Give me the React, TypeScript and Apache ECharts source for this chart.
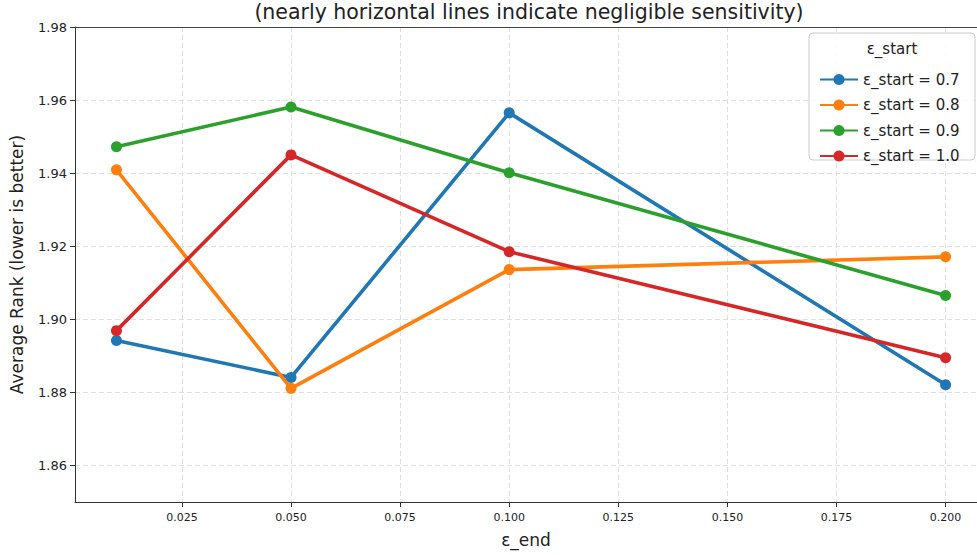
import React, { useEffect, useRef } from "react";
import * as echarts from "echarts";

const epsEnd = [0.01, 0.05, 0.1, 0.2];
const seriesNames = ["ε_start = 0.7", "ε_start = 0.8", "ε_start = 0.9", "ε_start = 1.0"];
const start07 = [1.8942, 1.8841, 1.9565, 1.8821];
const start08 = [1.9409, 1.8811, 1.9136, 1.9171];
const start09 = [1.9472, 1.9581, 1.9401, 1.9065];
const start10 = [1.8969, 1.945, 1.9185, 1.8895];
const colors = ["#1f77b4", "#ff7f0e", "#2ca02c", "#d62728"];
const xTicks = [0.025, 0.05, 0.075, 0.1, 0.125, 0.15, 0.175, 0.2];
const yTicks = [1.86, 1.88, 1.9, 1.92, 1.94, 1.96, 1.98];

const FONT = "DejaVu Sans";

export default function App() {
  const ref = useRef<HTMLDivElement>(null);
  useEffect(() => {
    if (!ref.current) return;
    const chart = echarts.init(ref.current, null, { renderer: "svg" });
    const values = [start07, start08, start09, start10];
    const series = values.map((vals, i) => ({
      name: seriesNames[i],
      type: "line",
      xAxisIndex: 0,
      data: epsEnd.map((x, j) => [x, vals[j]]),
      symbol: "circle",
      symbolSize: 11,
      lineStyle: { width: 3.6, color: colors[i] },
      itemStyle: { color: colors[i] },
      z: 3 + i,
    }));
    chart.setOption({
      animation: false,
      textStyle: { fontFamily: FONT },
      grid: {
        left: 74,
        right: 0,
        top: 27,
        bottom: 53,
      },
      xAxis: [
        {
          type: "value",
          min: 0.0005,
          max: 0.2072,
          name: "ε_end",
          nameLocation: "middle",
          nameGap: 29,
          nameTextStyle: { fontSize: 17, color: "#222", fontFamily: FONT },
          axisLine: { show: true, onZero: false, lineStyle: { color: "#333", width: 1 } },
          axisTick: { show: true, length: 5, lineStyle: { color: "#333" }, customValues: xTicks },
          axisLabel: {
            customValues: xTicks,
            fontSize: 11,
            color: "#222",
            margin: 10,
            fontFamily: FONT,
            formatter: (v: number) => v.toFixed(3),
          },
          splitLine: { show: true, lineStyle: { color: "#e0e0e0", type: [5, 3], width: 1 } },
        },
        {
          type: "value",
          position: "top",
          min: 0.0005,
          max: 0.2072,
          axisLine: { show: true, onZero: false, lineStyle: { color: "#444", width: 1.2 } },
          axisTick: { show: false },
          axisLabel: { show: false },
          splitLine: { show: false },
        },
      ],
      yAxis: {
        type: "value",
        min: 1.85,
        max: 1.98,
        name: "Average Rank (lower is better)",
        nameLocation: "middle",
        nameGap: 50,
        nameTextStyle: { fontSize: 17, color: "#222", fontFamily: FONT },
        axisLine: { show: true, onZero: false, lineStyle: { color: "#333", width: 1 } },
        axisTick: { show: true, length: 5, lineStyle: { color: "#333" }, customValues: yTicks },
        axisLabel: {
          customValues: yTicks,
          fontSize: 13,
          color: "#222",
          margin: 8,
          fontFamily: FONT,
          formatter: (v: number) => v.toFixed(2),
        },
        splitLine: { show: true, lineStyle: { color: "#e0e0e0", type: [5, 3], width: 1 } },
      },
      legend: {
        orient: "vertical",
        left: 814,
        top: 67,
        itemWidth: 38,
        itemHeight: 14,
        itemGap: 10.5,
        data: seriesNames,
        textStyle: { fontSize: 15, color: "#222", fontFamily: FONT },
        z: 20,
      },
      graphic: [
        {
          type: "text",
          x: 529,
          y: 12,
          style: {
            text: "(nearly horizontal lines indicate negligible sensitivity)",
            fontSize: 20.5,
            fontFamily: FONT,
            fill: "#222",
            align: "center",
            verticalAlign: "middle",
          },
          z: 10,
        },
        {
          type: "rect",
          shape: { x: 809, y: 33, width: 166, height: 127, r: 4 },
          style: { fill: "rgba(255,255,255,0.85)", stroke: "#cccccc", lineWidth: 1 },
          z: 15,
        },
        {
          type: "text",
          x: 892,
          y: 49,
          style: {
            text: "ε_start",
            fontSize: 15,
            fontFamily: FONT,
            fill: "#222",
            align: "center",
            verticalAlign: "middle",
          },
          z: 16,
        },
      ],
      series,
    });
    return () => chart.dispose();
  }, []);
  return (
    <div
      ref={ref}
      style={{ position: "fixed", left: 0, top: 0, width: 977, height: 555, background: "#fff" }}
    />
  );
}
